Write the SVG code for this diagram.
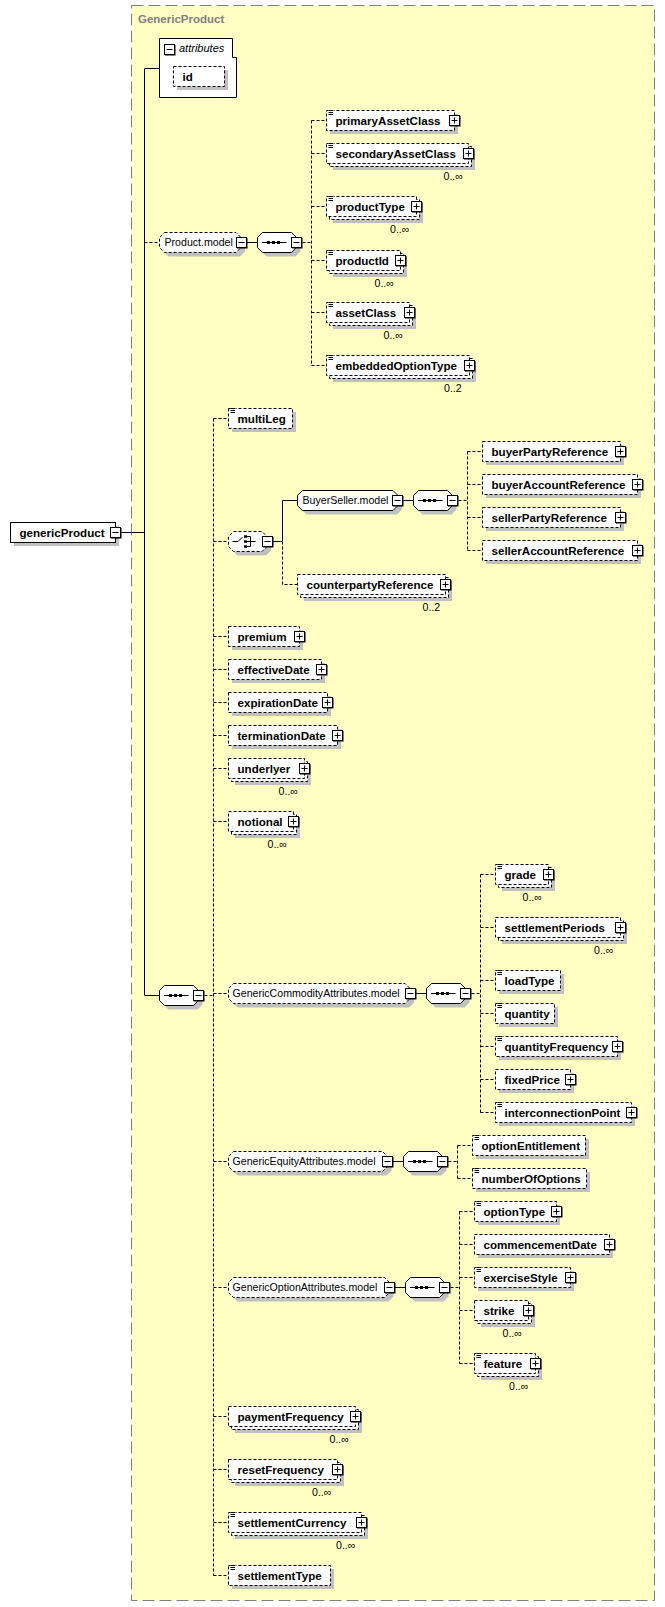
<svg xmlns="http://www.w3.org/2000/svg" xmlns:xlink="http://www.w3.org/1999/xlink" width="665" height="1607" viewBox="0 0 665 1607">
<style>
.bx{fill:#fff;stroke:#000;stroke-dasharray:3 2}
.bs{fill:#fff;stroke:#000}
.sh{fill:#c0c0c0}
.ln{fill:none;stroke:#000}
.dl{fill:none;stroke:#000;stroke-dasharray:3 2}
.t{font-family:"Liberation Sans",Arial,sans-serif;font-weight:bold;font-size:11.6px;fill:#000}
.g{font-family:"Liberation Sans",Arial,sans-serif;font-size:10.6px;fill:#000}
.it{font-family:"Liberation Sans",Arial,sans-serif;font-style:italic;font-size:11px;fill:#000}
.cap{font-family:"Liberation Sans",Arial,sans-serif;font-weight:bold;font-size:11.5px;fill:#808080}
</style>
<defs>
<g id="mi"><rect x="1" y="1" width="10.5" height="10.5" fill="#000"/><rect x="0.5" y="0.5" width="10" height="10" fill="#fff" stroke="#000"/><path d="M2.5 5.5h6" stroke="#000"/></g>
<g id="pl"><rect x="1" y="1" width="10.5" height="10.5" fill="#000"/><rect x="0.5" y="0.5" width="10" height="10" fill="#fff" stroke="#000"/><path d="M2.5 5.5h6M5.5 2.5v6" stroke="#000"/></g>
<g id="ic"><rect x="0" y="0" width="5" height="5" fill="#fff"/><path d="M0 0.5h4.5M0 2.5h4.5M0 4.5h4.5" stroke="#000"/></g>
<g id="sq"><polygon class="sh" points="9,-6 38,-6 43,-1 43,9 38,14 9,14 4,9 4,-1"/><polygon class="bs" points="5,-10 34,-10 39,-5 39,5 34,10 5,10 0,5 0,-5"/><path d="M4.5 0H29" stroke="#000"/><rect x="9.5" y="-1.5" width="3" height="3" fill="#000"/><rect x="14.5" y="-1.5" width="3" height="3" fill="#000"/><rect x="19.5" y="-1.5" width="3" height="3" fill="#000"/><use xlink:href="#mi" x="33.5" y="-5.5"/></g>
</defs>
<rect x="131.5" y="5.5" width="523" height="1595" fill="#ffffc4" stroke="#808080" stroke-dasharray="12 5"/>
<text class="cap" x="138" y="22.5">GenericProduct</text>
<g id="connectors">
<path class="ln" d="M121.5 532.5H144.5M144.5 68.5V995.5M144.5 68.5H159.5M144.5 995.5H159.5M247 242.5H257.5M273 541.5H282.5V500.5H297.5M403.5 500.5H413.5M416 993.5H426.5M393 1161.5H403.5M395 1287.5H405.5"/>
<path class="dl" d="M144.5 242.5H159.5M302.5 242.5H311.5M311.5 120.5V365.5M311.5 120.5H326.5M311.5 153.5H326.5M311.5 206.5H326.5M311.5 260.5H326.5M311.5 312.5H326.5M311.5 365.5H326.5"/>
<path class="dl" d="M213.5 418.5V1575.5M213.5 418.5H228.5M213.5 541.5H228.5M213.5 636.5H228.5M213.5 669.5H228.5M213.5 702.5H228.5M213.5 735.5H228.5M213.5 768.5H228.5M213.5 821.5H228.5M213.5 993.5H228.5M213.5 1161.5H228.5M213.5 1287.5H228.5M213.5 1416.5H228.5M213.5 1469.5H228.5M213.5 1522.5H228.5M213.5 1575.5H228.5M204.5 995.5H213.5"/>
<path class="dl" d="M282.5 541.5V584.5H297.5M458.5 500.5H467.5M467.5 451.5V550.5M467.5 451.5H482.5M467.5 484.5H482.5M467.5 517.5H482.5M467.5 550.5H482.5"/>
<path class="dl" d="M471.5 993.5H480.5M480.5 874.5V1112.5M480.5 874.5H495.5M480.5 927.5H495.5M480.5 980.5H495.5M480.5 1013.5H495.5M480.5 1046.5H495.5M480.5 1079.5H495.5M480.5 1112.5H495.5"/>
<path class="dl" d="M448.5 1161.5H457.5M457.5 1145.5V1178.5M457.5 1145.5H472.5M457.5 1178.5H472.5M450.5 1287.5H459.5M459.5 1211.5V1363.5M459.5 1211.5H474.5M459.5 1244.5H474.5M459.5 1277.5H474.5M459.5 1310.5H474.5M459.5 1363.5H474.5"/>
</g>
<g id="genericProduct"><rect class="sh" x="14" y="526" width="105" height="20"/><rect class="bs" x="10.5" y="522.5" width="105" height="20"/><text class="t" x="19.5" y="536.5">genericProduct</text><use xlink:href="#mi" x="110" y="527"/></g>
<g id="attributes"><polygon class="bs" points="159.5,38.5 232.5,38.5 232.5,57.5 236.5,57.5 236.5,97.5 159.5,97.5"/><use xlink:href="#mi" x="164" y="44"/><text class="it" x="179" y="52">attributes</text>
<rect class="sh" x="177" y="70" width="51" height="20"/><rect class="bx" x="173.5" y="66.5" width="51" height="20"/><text class="t" x="182.5" y="80.5">id</text></g>
<g id="Product.model"><polygon class="sh" points="168.5,236.5 240,236.5 245,241.5 245,251.5 240,256.5 168.5,256.5 163.5,251.5 163.5,241.5"/><polygon class="bx" points="164.5,232.5 236,232.5 241,237.5 241,247.5 236,252.5 164.5,252.5 159.5,247.5 159.5,237.5"/><text class="g" x="164.5" y="246.3">Product.model</text><use xlink:href="#mi" x="236" y="237"/></g>
<g id="seq-product"><use xlink:href="#sq" x="257.5" y="242.5"/></g>
<g id="primaryAssetClass"><rect class="sh" x="330" y="114" width="128" height="20"/><rect class="bx" x="326.5" y="110.5" width="128" height="20"/><use xlink:href="#ic" x="328.5" y="110"/><text class="t" x="335.5" y="124.5">primaryAssetClass</text><use xlink:href="#pl" x="449" y="115"/></g>
<g id="secondaryAssetClass"><rect class="sh" x="333" y="150" width="142" height="20"/><rect class="bx" x="329.5" y="146.5" width="142" height="20"/><rect class="bx" x="326.5" y="143.5" width="142" height="20"/><use xlink:href="#ic" x="328.5" y="143"/><text class="t" x="335.5" y="157.5">secondaryAssetClass</text><use xlink:href="#pl" x="463" y="148"/><text class="g" x="443.5" y="180">0..∞</text></g>
<g id="productType"><rect class="sh" x="333" y="203" width="90" height="20"/><rect class="bx" x="329.5" y="199.5" width="90" height="20"/><rect class="bx" x="326.5" y="196.5" width="90" height="20"/><use xlink:href="#ic" x="328.5" y="196"/><text class="t" x="335.5" y="210.5">productType</text><use xlink:href="#pl" x="411" y="201"/><text class="g" x="390" y="233">0..∞</text></g>
<g id="productId"><rect class="sh" x="333" y="257" width="74" height="20"/><rect class="bx" x="329.5" y="253.5" width="74" height="20"/><rect class="bx" x="326.5" y="250.5" width="74" height="20"/><use xlink:href="#ic" x="328.5" y="250"/><text class="t" x="335.5" y="264.5">productId</text><use xlink:href="#pl" x="395" y="255"/><text class="g" x="374.5" y="287">0..∞</text></g>
<g id="assetClass"><rect class="sh" x="333" y="309" width="83" height="20"/><rect class="bx" x="329.5" y="305.5" width="83" height="20"/><rect class="bx" x="326.5" y="302.5" width="83" height="20"/><use xlink:href="#ic" x="328.5" y="302"/><text class="t" x="335.5" y="316.5">assetClass</text><use xlink:href="#pl" x="404" y="307"/><text class="g" x="383.5" y="339">0..∞</text></g>
<g id="embeddedOptionType"><rect class="sh" x="333" y="362" width="143" height="20"/><rect class="bx" x="329.5" y="358.5" width="143" height="20"/><rect class="bx" x="326.5" y="355.5" width="143" height="20"/><use xlink:href="#ic" x="328.5" y="355"/><text class="t" x="335.5" y="369.5">embeddedOptionType</text><use xlink:href="#pl" x="464" y="360"/><text class="g" x="444" y="392">0..2</text></g>
<g id="multiLeg"><rect class="sh" x="232" y="412" width="64" height="20"/><rect class="bx" x="228.5" y="408.5" width="64" height="20"/><use xlink:href="#ic" x="230.5" y="408"/><text class="t" x="237.5" y="422.5">multiLeg</text></g>
<g id="choice"><polygon class="sh" points="237.5,535.5 266,535.5 271,540.5 271,550.5 266,555.5 237.5,555.5 232.5,550.5 232.5,540.5"/><polygon class="bx" points="233.5,531.5 262,531.5 267,536.5 267,546.5 262,551.5 233.5,551.5 228.5,546.5 228.5,536.5"/><path d="M232.5 541.5h5.5l4.5-4.5M247 536.5h3.5v10h-3.5M247 541.5h8.5" fill="none" stroke="#000"/><rect x="244" y="535.3" width="3" height="2.5"/><rect x="244" y="540.3" width="3" height="2.5"/><rect x="244" y="545.3" width="3" height="2.5"/><use xlink:href="#mi" x="262" y="536"/></g>
<g id="BuyerSeller.model"><polygon class="sh" points="306.5,494.5 397,494.5 402,499.5 402,509.5 397,514.5 306.5,514.5 301.5,509.5 301.5,499.5"/><polygon class="bs" points="302.5,490.5 393,490.5 398,495.5 398,505.5 393,510.5 302.5,510.5 297.5,505.5 297.5,495.5"/><text class="g" x="302.5" y="504.3">BuyerSeller.model</text><use xlink:href="#mi" x="392" y="495"/></g>
<g id="seq-buyerseller"><use xlink:href="#sq" x="413.5" y="500.5"/></g>
<g id="buyerPartyReference"><rect class="sh" x="486" y="445" width="138" height="20"/><rect class="bx" x="482.5" y="441.5" width="138" height="20"/><text class="t" x="491.5" y="455.5">buyerPartyReference</text><use xlink:href="#pl" x="615" y="446"/></g>
<g id="buyerAccountReference"><rect class="sh" x="486" y="478" width="155" height="20"/><rect class="bx" x="482.5" y="474.5" width="155" height="20"/><text class="t" x="491.5" y="488.5">buyerAccountReference</text><use xlink:href="#pl" x="632" y="479"/></g>
<g id="sellerPartyReference"><rect class="sh" x="486" y="511" width="138" height="20"/><rect class="bx" x="482.5" y="507.5" width="138" height="20"/><text class="t" x="491.5" y="521.5">sellerPartyReference</text><use xlink:href="#pl" x="615" y="512"/></g>
<g id="sellerAccountReference"><rect class="sh" x="486" y="544" width="155" height="20"/><rect class="bx" x="482.5" y="540.5" width="155" height="20"/><text class="t" x="491.5" y="554.5">sellerAccountReference</text><use xlink:href="#pl" x="632" y="545"/></g>
<g id="counterpartyReference"><rect class="sh" x="304" y="581" width="148" height="20"/><rect class="bx" x="300.5" y="577.5" width="148" height="20"/><rect class="bx" x="297.5" y="574.5" width="148" height="20"/><text class="t" x="306.5" y="588.5">counterpartyReference</text><use xlink:href="#pl" x="440" y="579"/><text class="g" x="422.5" y="611">0..2</text></g>
<g id="premium"><rect class="sh" x="232" y="630" width="71" height="20"/><rect class="bx" x="228.5" y="626.5" width="71" height="20"/><text class="t" x="237.5" y="640.5">premium</text><use xlink:href="#pl" x="294" y="631"/></g>
<g id="effectiveDate"><rect class="sh" x="232" y="663" width="93" height="20"/><rect class="bx" x="228.5" y="659.5" width="93" height="20"/><text class="t" x="237.5" y="673.5">effectiveDate</text><use xlink:href="#pl" x="316" y="664"/></g>
<g id="expirationDate"><rect class="sh" x="232" y="696" width="99" height="20"/><rect class="bx" x="228.5" y="692.5" width="99" height="20"/><text class="t" x="237.5" y="706.5">expirationDate</text><use xlink:href="#pl" x="322" y="697"/></g>
<g id="terminationDate"><rect class="sh" x="232" y="729" width="109" height="20"/><rect class="bx" x="228.5" y="725.5" width="109" height="20"/><text class="t" x="237.5" y="739.5">terminationDate</text><use xlink:href="#pl" x="332" y="730"/></g>
<g id="underlyer"><rect class="sh" x="235" y="765" width="76" height="20"/><rect class="bx" x="231.5" y="761.5" width="76" height="20"/><rect class="bx" x="228.5" y="758.5" width="76" height="20"/><text class="t" x="237.5" y="772.5">underlyer</text><use xlink:href="#pl" x="299" y="763"/><text class="g" x="278.5" y="795">0..∞</text></g>
<g id="notional"><rect class="sh" x="235" y="818" width="65" height="20"/><rect class="bx" x="231.5" y="814.5" width="65" height="20"/><rect class="bx" x="228.5" y="811.5" width="65" height="20"/><text class="t" x="237.5" y="825.5">notional</text><use xlink:href="#pl" x="288" y="816"/><text class="g" x="267.5" y="848">0..∞</text></g>
<g id="seq-main"><use xlink:href="#sq" x="159.5" y="995.5"/></g>
<g id="GenericCommodityAttributes.model"><polygon class="sh" points="237.5,987.5 409,987.5 414,992.5 414,1002.5 409,1007.5 237.5,1007.5 232.5,1002.5 232.5,992.5"/><polygon class="bx" points="233.5,983.5 405,983.5 410,988.5 410,998.5 405,1003.5 233.5,1003.5 228.5,998.5 228.5,988.5"/><text class="g" x="232.5" y="997.3">GenericCommodityAttributes.model</text><use xlink:href="#mi" x="405" y="988"/></g>
<g id="seq-commodity"><use xlink:href="#sq" x="426.5" y="993.5"/></g>
<g id="grade"><rect class="sh" x="502" y="871" width="53" height="20"/><rect class="bx" x="498.5" y="867.5" width="53" height="20"/><rect class="bx" x="495.5" y="864.5" width="53" height="20"/><use xlink:href="#ic" x="497.5" y="864"/><text class="t" x="504.5" y="878.5">grade</text><use xlink:href="#pl" x="543" y="869"/><text class="g" x="522.5" y="901">0..∞</text></g>
<g id="settlementPeriods"><rect class="sh" x="502" y="924" width="125" height="20"/><rect class="bx" x="498.5" y="920.5" width="125" height="20"/><rect class="bx" x="495.5" y="917.5" width="125" height="20"/><text class="t" x="504.5" y="931.5">settlementPeriods</text><use xlink:href="#pl" x="615" y="922"/><text class="g" x="594" y="954">0..∞</text></g>
<g id="loadType"><rect class="sh" x="499" y="974" width="65" height="20"/><rect class="bx" x="495.5" y="970.5" width="65" height="20"/><use xlink:href="#ic" x="497.5" y="970"/><text class="t" x="504.5" y="984.5">loadType</text></g>
<g id="quantity"><rect class="sh" x="499" y="1007" width="59" height="20"/><rect class="bx" x="495.5" y="1003.5" width="59" height="20"/><use xlink:href="#ic" x="497.5" y="1003"/><text class="t" x="504.5" y="1017.5">quantity</text></g>
<g id="quantityFrequency"><rect class="sh" x="499" y="1040" width="122" height="20"/><rect class="bx" x="495.5" y="1036.5" width="122" height="20"/><use xlink:href="#ic" x="497.5" y="1036"/><text class="t" x="504.5" y="1050.5">quantityFrequency</text><use xlink:href="#pl" x="612" y="1041"/></g>
<g id="fixedPrice"><rect class="sh" x="499" y="1073" width="75" height="20"/><rect class="bx" x="495.5" y="1069.5" width="75" height="20"/><text class="t" x="504.5" y="1083.5">fixedPrice</text><use xlink:href="#pl" x="565" y="1074"/></g>
<g id="interconnectionPoint"><rect class="sh" x="499" y="1106" width="136" height="20"/><rect class="bx" x="495.5" y="1102.5" width="136" height="20"/><use xlink:href="#ic" x="497.5" y="1102"/><text class="t" x="504.5" y="1116.5">interconnectionPoint</text><use xlink:href="#pl" x="626" y="1107"/></g>
<g id="GenericEquityAttributes.model"><polygon class="sh" points="237.5,1155.5 386.5,1155.5 391.5,1160.5 391.5,1170.5 386.5,1175.5 237.5,1175.5 232.5,1170.5 232.5,1160.5"/><polygon class="bx" points="233.5,1151.5 382.5,1151.5 387.5,1156.5 387.5,1166.5 382.5,1171.5 233.5,1171.5 228.5,1166.5 228.5,1156.5"/><text class="g" x="232.5" y="1165.3">GenericEquityAttributes.model</text><use xlink:href="#mi" x="382" y="1156"/></g>
<g id="seq-equity"><use xlink:href="#sq" x="403.5" y="1161.5"/></g>
<g id="optionEntitlement"><rect class="sh" x="476" y="1139" width="113" height="20"/><rect class="bx" x="472.5" y="1135.5" width="113" height="20"/><use xlink:href="#ic" x="474.5" y="1135"/><text class="t" x="481.5" y="1149.5">optionEntitlement</text></g>
<g id="numberOfOptions"><rect class="sh" x="476" y="1172" width="114" height="20"/><rect class="bx" x="472.5" y="1168.5" width="114" height="20"/><use xlink:href="#ic" x="474.5" y="1168"/><text class="t" x="481.5" y="1182.5">numberOfOptions</text></g>
<g id="GenericOptionAttributes.model"><polygon class="sh" points="237.5,1281.5 388.5,1281.5 393.5,1286.5 393.5,1296.5 388.5,1301.5 237.5,1301.5 232.5,1296.5 232.5,1286.5"/><polygon class="bx" points="233.5,1277.5 384.5,1277.5 389.5,1282.5 389.5,1292.5 384.5,1297.5 233.5,1297.5 228.5,1292.5 228.5,1282.5"/><text class="g" x="232.5" y="1291.3">GenericOptionAttributes.model</text><use xlink:href="#mi" x="384" y="1282"/></g>
<g id="seq-option"><use xlink:href="#sq" x="405.5" y="1287.5"/></g>
<g id="optionType"><rect class="sh" x="478" y="1205" width="82" height="20"/><rect class="bx" x="474.5" y="1201.5" width="82" height="20"/><use xlink:href="#ic" x="476.5" y="1201"/><text class="t" x="483.5" y="1215.5">optionType</text><use xlink:href="#pl" x="551" y="1206"/></g>
<g id="commencementDate"><rect class="sh" x="478" y="1238" width="135" height="20"/><rect class="bx" x="474.5" y="1234.5" width="135" height="20"/><text class="t" x="483.5" y="1248.5">commencementDate</text><use xlink:href="#pl" x="604" y="1239"/></g>
<g id="exerciseStyle"><rect class="sh" x="478" y="1271" width="96" height="20"/><rect class="bx" x="474.5" y="1267.5" width="96" height="20"/><use xlink:href="#ic" x="476.5" y="1267"/><text class="t" x="483.5" y="1281.5">exerciseStyle</text><use xlink:href="#pl" x="565" y="1272"/></g>
<g id="strike"><rect class="sh" x="481" y="1307" width="54" height="20"/><rect class="bx" x="477.5" y="1303.5" width="54" height="20"/><rect class="bx" x="474.5" y="1300.5" width="54" height="20"/><text class="t" x="483.5" y="1314.5">strike</text><use xlink:href="#pl" x="523" y="1305"/><text class="g" x="502.5" y="1337">0..∞</text></g>
<g id="feature"><rect class="sh" x="481" y="1360" width="61" height="20"/><rect class="bx" x="477.5" y="1356.5" width="61" height="20"/><rect class="bx" x="474.5" y="1353.5" width="61" height="20"/><use xlink:href="#ic" x="476.5" y="1353"/><text class="t" x="483.5" y="1367.5">feature</text><use xlink:href="#pl" x="530" y="1358"/><text class="g" x="509" y="1390">0..∞</text></g>
<g id="paymentFrequency"><rect class="sh" x="235" y="1413" width="127" height="20"/><rect class="bx" x="231.5" y="1409.5" width="127" height="20"/><rect class="bx" x="228.5" y="1406.5" width="127" height="20"/><text class="t" x="237.5" y="1420.5">paymentFrequency</text><use xlink:href="#pl" x="350" y="1411"/><text class="g" x="329.5" y="1443">0..∞</text></g>
<g id="resetFrequency"><rect class="sh" x="235" y="1466" width="109" height="20"/><rect class="bx" x="231.5" y="1462.5" width="109" height="20"/><rect class="bx" x="228.5" y="1459.5" width="109" height="20"/><text class="t" x="237.5" y="1473.5">resetFrequency</text><use xlink:href="#pl" x="332" y="1464"/><text class="g" x="312" y="1496">0..∞</text></g>
<g id="settlementCurrency"><rect class="sh" x="235" y="1519" width="133" height="20"/><rect class="bx" x="231.5" y="1515.5" width="133" height="20"/><rect class="bx" x="228.5" y="1512.5" width="133" height="20"/><use xlink:href="#ic" x="230.5" y="1512"/><text class="t" x="237.5" y="1526.5">settlementCurrency</text><use xlink:href="#pl" x="356" y="1517"/><text class="g" x="336" y="1549">0..∞</text></g>
<g id="settlementType"><rect class="sh" x="232" y="1569" width="102" height="20"/><rect class="bx" x="228.5" y="1565.5" width="102" height="20"/><use xlink:href="#ic" x="230.5" y="1565"/><text class="t" x="237.5" y="1579.5">settlementType</text></g>
</svg>
